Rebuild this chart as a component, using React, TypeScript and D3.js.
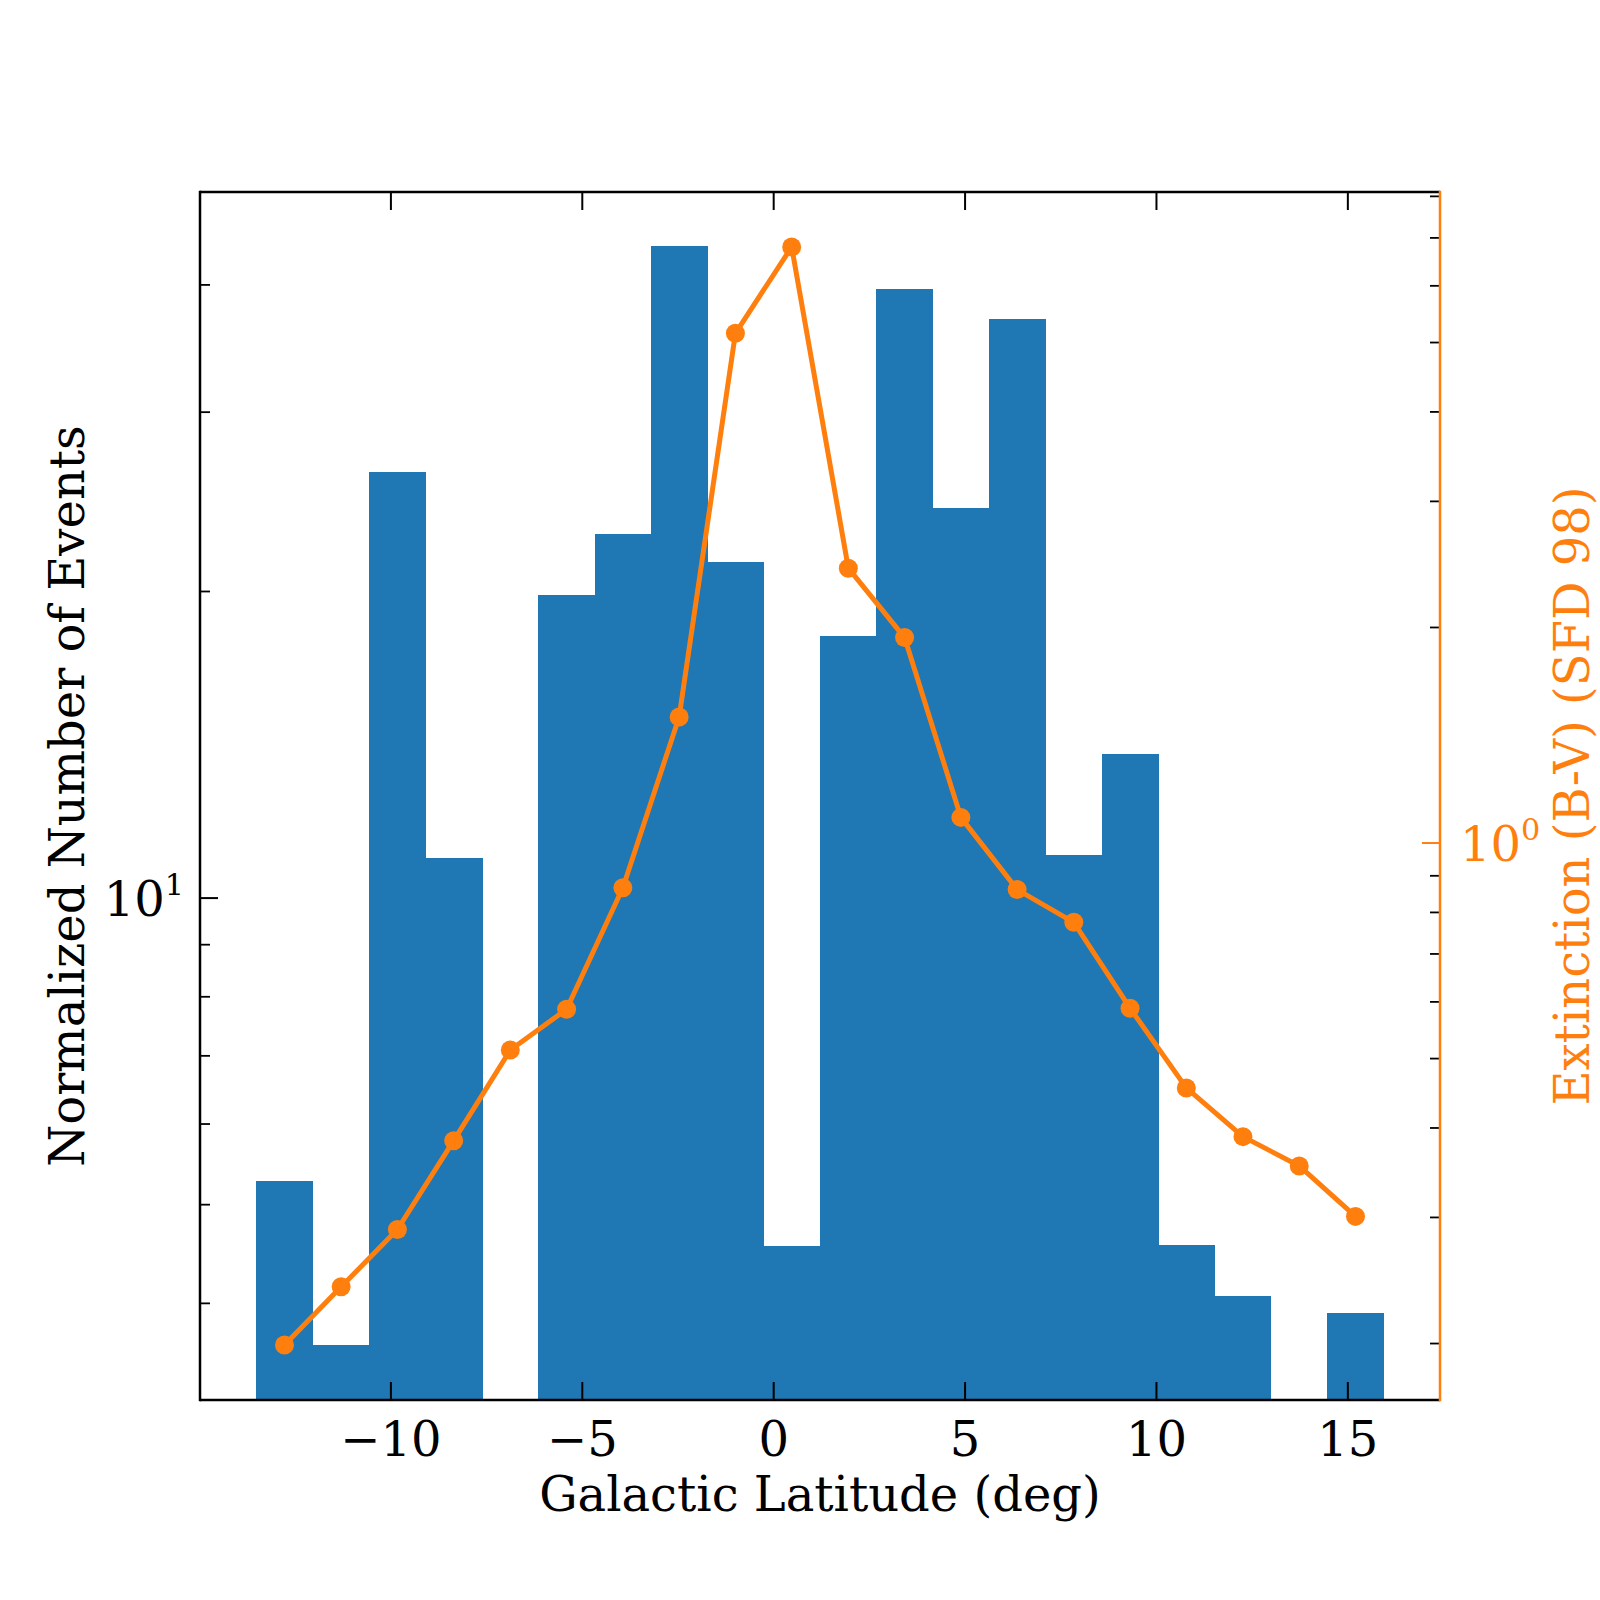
import React, { useEffect, useRef } from "react";
import * as d3 from "d3";

// histogram bin edges (deg) and normalized counts per bin (null = empty bin)
const binEdges = [
  -13.515, -12.04, -10.57, -9.09, -7.62, -6.15, -4.68, -3.21, -1.73, -0.26, 1.21,
  2.68, 4.16, 5.63, 7.1, 8.57, 10.05, 11.52, 12.99, 14.46, 15.935,
];
const eventCounts = [
  5.28, 3.64, 26.2, 10.94, null, 19.85, 22.8, 43.7, 21.4, 4.555, 18.1, 39.6, 24.15,
  37.0, 11.02, 13.85, 4.565, 4.07, null, 3.91,
];

// extinction at bin centers
const binCenters = [
  -12.78, -11.3, -9.83, -8.36, -6.88, -5.41, -3.94, -2.47, -1.0, 0.47, 1.95, 3.42,
  4.89, 6.36, 7.84, 9.31, 10.78, 12.26, 13.73, 15.2,
];
const extinction = [
  0.199, 0.24, 0.2886, 0.384, 0.514, 0.586, 0.866, 1.5, 5.15, 6.8, 2.42, 1.936,
  1.086, 0.861, 0.775, 0.588, 0.455, 0.389, 0.354, 0.301,
];

const xTicks = [-10, -5, 0, 5, 10, 15];
const leftMajor = [10];
const leftMinor = [4, 5, 6, 7, 8, 9, 20, 30, 40];
const rightMajor = [1];
const rightMinor = [0.2, 0.3, 0.4, 0.5, 0.6, 0.7, 0.8, 0.9, 2, 3, 4, 5, 6, 7, 8];

const BLUE = "#1f77b4";
const ORANGE = "#ff7f0e";
const FONT = "DejaVu Serif";

const App = () => {
  const ref = useRef<SVGSVGElement>(null);

  useEffect(() => {
    const left = 200;
    const right = 1440;
    const top = 192;
    const bottom = 1400;
    const fs = 48;

    const svg = d3.select(ref.current);
    svg.selectAll("*").remove();

    const lo = binEdges[0];
    const hi = binEdges[binEdges.length - 1];
    const pad = (hi - lo) * 0.05;
    const x = d3.scaleLinear().domain([lo - pad, hi + pad]).range([left, right]);
    const yL = d3.scaleLog().domain([3.215, 49.35]).range([bottom, top]);

    const eMin = Math.log10(d3.min(extinction)!);
    const eMax = Math.log10(d3.max(extinction)!);
    const ePad = (eMax - eMin) * 0.05;
    const yR = d3
      .scaleLog()
      .domain([Math.pow(10, eMin - ePad), Math.pow(10, eMax + ePad)])
      .range([bottom, top]);

    // bars
    svg
      .append("g")
      .attr("shape-rendering", "crispEdges")
      .selectAll("rect")
      .data(eventCounts.map((v, i) => ({ v, i })).filter((d) => d.v !== null))
      .enter()
      .append("rect")
      .attr("x", (d) => x(binEdges[d.i]))
      .attr("width", (d) => x(binEdges[d.i + 1]) - x(binEdges[d.i]) + 0.5)
      .attr("y", (d) => yL(d.v as number))
      .attr("height", (d) => bottom - yL(d.v as number))
      .attr("fill", BLUE);

    const frame = svg.append("g").attr("stroke", "#000").attr("stroke-width", 2.5);
    frame.append("line").attr("x1", left).attr("x2", left).attr("y1", top - 1.25).attr("y2", bottom + 1.25);
    frame.append("line").attr("x1", left).attr("x2", right).attr("y1", top).attr("y2", top);
    frame.append("line").attr("x1", left).attr("x2", right).attr("y1", bottom).attr("y2", bottom);

    // x ticks (bottom and top, inward)
    const ticks = svg.append("g").attr("stroke", "#000").attr("stroke-width", 2);
    xTicks.forEach((t) => {
      ticks.append("line").attr("x1", x(t)).attr("x2", x(t)).attr("y1", bottom).attr("y2", bottom - 18);
      ticks.append("line").attr("x1", x(t)).attr("x2", x(t)).attr("y1", top).attr("y2", top + 18);
    });
    leftMajor.forEach((t) => {
      ticks.append("line").attr("x1", left).attr("x2", left + 18).attr("y1", yL(t)).attr("y2", yL(t));
    });
    leftMinor.forEach((t) => {
      ticks.append("line").attr("x1", left).attr("x2", left + 10).attr("y1", yL(t)).attr("y2", yL(t)).attr("stroke-width", 1.8);
    });

    svg
      .append("g")
      .selectAll("text")
      .data(xTicks)
      .enter()
      .append("text")
      .attr("x", (d) => x(d))
      .attr("y", 1456)
      .attr("text-anchor", "middle")
      .attr("font-family", FONT)
      .attr("font-size", fs)
      .text((d) => (d < 0 ? "\u2212" + Math.abs(d) : String(d)));

    const sup = (g: any, tx: number, ty: number, anchor: string, exp: string, color: string) => {
      const t = g
        .append("text")
        .attr("x", tx)
        .attr("y", ty)
        .attr("text-anchor", anchor)
        .attr("font-family", FONT)
        .attr("font-size", fs)
        .attr("fill", color);
      t.append("tspan").text("10");
      t.append("tspan").attr("dy", -21).attr("font-size", fs * 0.63).text(exp);
    };
    sup(svg, left - 16, yL(10) + 18, "end", "1", "#000");

    // extinction line (twin axis)
    const line = d3
      .line<number>()
      .x((d, i) => x(binCenters[i]))
      .y((d) => yR(d));
    svg
      .append("path")
      .attr("d", line(extinction))
      .attr("fill", "none")
      .attr("stroke", ORANGE)
      .attr("stroke-width", 5)
      .attr("stroke-linejoin", "round");
    svg
      .append("g")
      .selectAll("circle")
      .data(extinction)
      .enter()
      .append("circle")
      .attr("cx", (d, i) => x(binCenters[i]))
      .attr("cy", (d) => yR(d))
      .attr("r", 9.5)
      .attr("fill", ORANGE);

    // right axis
    const rt = svg.append("g");
    rightMinor.forEach((t) => {
      rt.append("line")
        .attr("x1", right)
        .attr("x2", right - 10)
        .attr("y1", yR(t))
        .attr("y2", yR(t))
        .attr("stroke", "#000")
        .attr("stroke-width", 1.8);
    });
    rightMajor.forEach((t) => {
      rt.append("line")
        .attr("x1", right)
        .attr("x2", right - 18)
        .attr("y1", yR(t))
        .attr("y2", yR(t))
        .attr("stroke", ORANGE)
        .attr("stroke-width", 2);
    });
    rt.append("line")
      .attr("x1", right)
      .attr("x2", right)
      .attr("y1", top - 1.25)
      .attr("y2", bottom + 1.25)
      .attr("stroke", ORANGE)
      .attr("stroke-width", 2.5);
    sup(svg, 1460, yR(1) + 18, "start", "0", ORANGE);

    // axis labels
    svg
      .append("text")
      .attr("x", (left + right) / 2)
      .attr("y", 1511)
      .attr("text-anchor", "middle")
      .attr("font-family", FONT)
      .attr("font-size", fs)
      .text("Galactic Latitude (deg)");
    svg
      .append("text")
      .attr("transform", `translate(84,${(top + bottom) / 2}) rotate(-90)`)
      .attr("text-anchor", "middle")
      .attr("font-family", FONT)
      .attr("font-size", fs)
      .text("Normalized Number of Events");
    svg
      .append("text")
      .attr("transform", `translate(1589,${(top + bottom) / 2}) rotate(-90)`)
      .attr("text-anchor", "middle")
      .attr("font-family", FONT)
      .attr("font-size", fs)
      .attr("fill", ORANGE)
      .text("Extinction (B-V) (SFD 98)");
  }, []);

  return (
    <div style={{ position: "absolute", left: 0, top: 0 }}>
      <svg ref={ref} width={1600} height={1600} style={{ display: "block", background: "#fff" }}></svg>
    </div>
  );
};

export default App;
